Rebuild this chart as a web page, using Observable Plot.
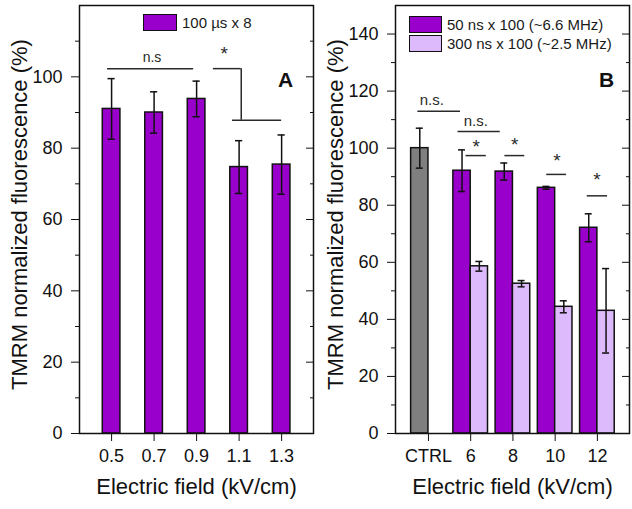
<!DOCTYPE html>
<html>
<head>
<meta charset="utf-8">
<script src="https://cdn.jsdelivr.net/npm/d3@7"></script>
<script src="https://cdn.jsdelivr.net/npm/@observablehq/plot@0.6"></script>
<style>
  body { margin: 0; background: #fff; font-family: "Liberation Sans", Arial, sans-serif; }
  #wrap { display: flex; width: 632px; height: 509px; }
  .panel { position: relative; width: 316px; height: 509px; }
  .legend-row { position: absolute; display: flex; align-items: center; height: 17px; font-size: 15px; color: #1a1a1a; white-space: nowrap; }
  .swatch { box-sizing: border-box; height: 17px; border: 1.5px solid #111; }
</style>
</head>
<body>
<div id="wrap">
  <div class="panel" id="panelA"></div>
  <div class="panel" id="panelB"></div>
</div>
<script>
// ---- Panel A: 100 µs x 8 pulses ----
const fieldA = [0.5, 0.7, 0.9, 1.1, 1.3];
const meanA = [91.0, 90.0, 93.8, 74.7, 75.4];
const errA = [8.5, 5.8, 5.0, 7.4, 8.3];

// ---- Panel B: 50 ns x 100 vs 300 ns x 100 ----
const groupsB = ["CTRL", "6", "8", "10", "12"];
const mean50 = [100.0, 92.1, 91.8, 86.1, 72.1];
const err50 = [7.0, 7.3, 3.0, 0.5, 4.9];
const mean300 = [null, 58.6, 52.5, 44.4, 43.0];
const err300 = [null, 1.7, 1.1, 2.1, 14.8];

const seriesA = "100 µs x 8";
const series50 = "50 ns x 100 (~6.6 MHz)";
const series300 = "300 ns x 100 (~2.5 MHz)";

// significance brackets (data coordinates)
const sigLinesA = [
  {x1: 0.481, x2: 0.886, y: 102.3},
  {x1: 0.979, x2: 1.110, y: 102.3},
  {x1: 1.069, x2: 1.300, y: 87.8}
];
const sigDropsA = [{x: 1.110, y1: 87.8, y2: 102.3}];
const sigLabelsA = [
  {x: 0.69, y: 105.3, text: "n.s", size: 14},
  {x: 1.03, y: 106.3, text: "*", size: 19}
];
const sigLinesB = [
  {x1: -0.25, x2: 0.76, y: 112.9},
  {x1: 0.70, x2: 1.70, y: 105.8},
  {x1: 0.89, x2: 1.37, y: 97.4},
  {x1: 1.81, x2: 2.28, y: 97.4},
  {x1: 2.80, x2: 3.27, y: 90.8},
  {x1: 3.76, x2: 4.24, y: 83.3}
];
const sigLabelsB = [
  {x: 0.08, y: 116.8, text: "n.s.", size: 15},
  {x: 1.12, y: 109.4, text: "n.s.", size: 15},
  {x: 1.13, y: 100.4, text: "*", size: 19},
  {x: 2.04, y: 101.0, text: "*", size: 19},
  {x: 3.04, y: 95.6, text: "*", size: 19},
  {x: 3.99, y: 88.8, text: "*", size: 19}
];

const purple = "#9A00CB";
const lilac = "#DDBAFB";
const grey = "#7F7F7F";
const ink = "#111";
const annot = "#2a2a2a";
const font = "'Liberation Sans', Arial, sans-serif";

const layout = {width: 316, height: 509, marginLeft: 79, marginRight: 3, marginTop: 5, marginBottom: 76};

function frameAxes(yMax, labelMax, xTicks, xFormat) {
  return [
    Plot.axisY({ticks: d3.range(0, labelMax + 1, 20), tickSize: 8, tickPadding: 9, fontSize: 18, color: ink, label: null}),
    Plot.axisY({ticks: d3.range(10, yMax, 20), tickSize: 4, fill: "none", color: ink, label: null}),
    Plot.axisY({anchor: "right", ticks: d3.range(0, yMax + 1, 20), tickSize: 8, insetRight: 8, fill: "none", color: ink, label: null}),
    Plot.axisY({anchor: "right", ticks: d3.range(10, yMax, 20), tickSize: 4, insetRight: 4, fill: "none", color: ink, label: null}),
    Plot.axisX({ticks: xTicks, tickFormat: xFormat, tickSize: 8, tickPadding: 8, fontSize: 18, color: ink, label: null}),
    Plot.frame({stroke: ink, strokeWidth: 1.5}),
    Plot.text(["TMRM normalized fluorescence (%)"], {frameAnchor: "left", textAnchor: "middle", lineAnchor: "middle", rotate: -90, dx: -60, dy: -5, fontSize: 22, fill: ink}),
    Plot.text(["Electric field (kV/cm)"], {frameAnchor: "bottom", textAnchor: "middle", lineAnchor: "middle", dy: 53, fontSize: 22, fill: ink})
  ];
}

function sigMarks(lines, labels, drops) {
  return [
    Plot.ruleY(lines, {x1: "x1", x2: "x2", y: "y", stroke: annot, strokeWidth: 1.5}),
    Plot.ruleX(drops || [], {x: "x", y1: "y1", y2: "y2", stroke: annot, strokeWidth: 1.5}),
    Plot.text(labels, {x: "x", y: "y", text: "text", fontSize: d => d.size, fill: annot, lineAnchor: "middle"})
  ];
}

function errorBars(data, x, lo, hi, cap) {
  return [
    Plot.ruleX(data, {x, y1: lo, y2: hi, stroke: ink, strokeWidth: 1.5}),
    Plot.ruleY(data, {y: hi, x1: d => x(d) - cap, x2: d => x(d) + cap, stroke: ink, strokeWidth: 1.5}),
    Plot.ruleY(data, {y: lo, x1: d => x(d) - cap, x2: d => x(d) + cap, stroke: ink, strokeWidth: 1.5})
  ];
}

// ---- Panel A ----
const tableA = fieldA.map((f, i) => ({field: f, mean: meanA[i], err: errA[i]}));
const halfBarA = 0.0415;

const plotA = Plot.plot({
  ...layout,
  style: {fontFamily: font, fontSize: "18px", color: ink, background: "transparent", overflow: "visible"},
  x: {domain: [0.349, 1.45]},
  y: {domain: [0, 120]},
  marks: [
    Plot.rectY(tableA, {x1: d => d.field - halfBarA, x2: d => d.field + halfBarA, y1: 0, y2: "mean", fill: purple, stroke: ink, strokeWidth: 1.5}),
    ...errorBars(tableA, d => d.field, d => d.mean - d.err, d => d.mean + d.err, 0.017),
    ...sigMarks(sigLinesA, sigLabelsA, sigDropsA),
    Plot.text(["A"], {frameAnchor: "top-right", dx: -28, dy: 75, fontSize: 21, fontWeight: "bold", fill: ink, textAnchor: "middle", lineAnchor: "middle"}),
    ...frameAxes(120, 100, fieldA, d3.format(".1f"))
  ]
});
document.getElementById("panelA").appendChild(plotA);

// ---- Panel B ----
const tableB = groupsB.map((g, i) => ({i, group: g, m50: mean50[i], e50: err50[i], m300: mean300[i], e300: err300[i]}));
const ctrlB = tableB.filter(d => d.group === "CTRL");
const treatedB = tableB.filter(d => d.group !== "CTRL");
const barB = 0.41;

const plotB = Plot.plot({
  ...layout,
  style: {fontFamily: font, fontSize: "18px", color: ink, background: "transparent", overflow: "visible"},
  x: {domain: [-0.78, 4.76]},
  y: {domain: [0, 150]},
  marks: [
    Plot.rectY(ctrlB, {x1: d => d.i - barB, x2: d => d.i, y1: 0, y2: "m50", fill: grey, stroke: ink, strokeWidth: 1.5}),
    Plot.rectY(treatedB, {x1: d => d.i - barB, x2: d => d.i, y1: 0, y2: "m50", fill: purple, stroke: ink, strokeWidth: 1.5}),
    Plot.rectY(treatedB, {x1: d => d.i, x2: d => d.i + barB, y1: 0, y2: "m300", fill: lilac, stroke: ink, strokeWidth: 1.5}),
    ...errorBars(tableB, d => d.i - barB / 2, d => d.m50 - d.e50, d => d.m50 + d.e50, 0.083),
    ...errorBars(treatedB, d => d.i + barB / 2, d => d.m300 - d.e300, d => d.m300 + d.e300, 0.083),
    ...sigMarks(sigLinesB, sigLabelsB),
    Plot.text(["B"], {frameAnchor: "top-right", dx: -23, dy: 75, fontSize: 21, fontWeight: "bold", fill: ink, textAnchor: "middle", lineAnchor: "middle"}),
    ...frameAxes(150, 140, d3.range(groupsB.length), i => groupsB[i])
  ]
});
document.getElementById("panelB").appendChild(plotB);

// ---- Legends (inside each frame) ----
function legendRow(parent, left, top, width, fill, label) {
  const row = document.createElement("div");
  row.className = "legend-row";
  row.style.left = left + "px";
  row.style.top = top + "px";
  const sw = document.createElement("div");
  sw.className = "swatch";
  sw.style.width = width + "px";
  sw.style.background = fill;
  sw.style.marginRight = "5px";
  const t = document.createElement("span");
  t.textContent = label;
  row.append(sw, t);
  parent.appendChild(row);
}
legendRow(document.getElementById("panelA"), 143, 14, 34, purple, seriesA);
legendRow(document.getElementById("panelB"), 93, 16, 33, purple, series50);
legendRow(document.getElementById("panelB"), 93, 34.5, 33, lilac, series300);
</script>
</body>
</html>
